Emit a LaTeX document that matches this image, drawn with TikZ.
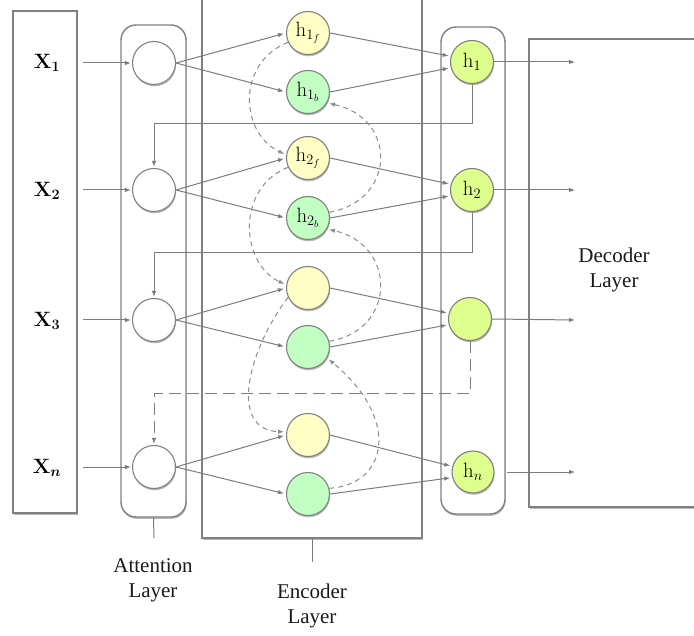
\documentclass[tikz,border=0pt]{standalone}
\usepackage[no-math]{fontspec}
\usepackage{bm}
\newfontfamily\tnr{Liberation Serif}
\usetikzlibrary{arrows.meta,shadows,calc}

\definecolor{edgegray}{HTML}{808080}
\definecolor{wiregray}{HTML}{7C7C7C}
\definecolor{dashgray}{HTML}{8C8C8C}
\definecolor{fwdfill}{HTML}{FFFFC6}
\definecolor{bwdfill}{HTML}{C2FFC2}
\definecolor{outfill}{HTML}{DEFF8E}

\begin{document}
\begin{tikzpicture}[x=1pt,y=-1pt,
  softshadow/.style={drop shadow={shadow xshift=0.6pt,shadow yshift=-1.8pt,fill=black,opacity=0.28}},
  layerbox/.style={draw=edgegray,line width=1.4pt,fill=white,inner sep=0pt,softshadow},
  cell/.style={circle,draw=edgegray,line width=1.1pt,minimum size=43pt,inner sep=0pt,
               softshadow,font=\fontsize{20}{24}\selectfont},
  conn/.style={draw=wiregray,line width=1pt,-{Latex[length=6pt,width=4.5pt]},shorten >=1pt},
  link/.style={draw=wiregray,line width=1pt},
  recur/.style={draw=dashgray,line width=1pt,dash pattern=on 5pt off 4pt,
                -{Latex[length=6pt,width=4.5pt]},shorten >=1pt},
  layername/.style={font=\tnr\fontsize{21}{25}\selectfont,align=center,text=black!90},
  xname/.style={font=\fontsize{20}{24}\selectfont}]

\useasboundingbox (0,0) rectangle (694,636);

% layer frames
\node[layerbox,minimum width=64pt,minimum height=502pt] (inbox) at (45,262) {};
\node[layerbox,rounded corners=15pt,minimum width=65pt,minimum height=492pt] (attbox) at (153.5,271) {};
\node[layerbox,minimum width=220pt,minimum height=548pt] (encbox) at (312,264) {};
\node[layerbox,rounded corners=15pt,minimum width=64pt,minimum height=487pt] (outbox) at (473,270.5) {};
\node[layerbox,minimum width=190pt,minimum height=468pt] (decbox) at (624,273) {};

% input tokens
\node[xname] (x1) at (47,63) {$\mathbf{X_1}$};
\node[xname] (x2) at (47,191) {$\mathbf{X_2}$};
\node[xname] (x3) at (47,321) {$\mathbf{X_3}$};
\node[xname] (xn) at (47,468) {$\mathbf{X}_{\bm{n}}$};

% attention cells
\node[cell,fill=white] (a1) at (154,63) {};
\node[cell,fill=white] (a2) at (154,190) {};
\node[cell,fill=white] (a3) at (154,320) {};
\node[cell,fill=white] (an) at (154,467) {};

% encoder cells (forward / backward)
\node[cell,fill=fwdfill] (f1) at (308,33) {$\mathrm{h}_{1_f}$};
\node[cell,fill=bwdfill] (b1) at (308,92) {$\mathrm{h}_{1_b}$};
\node[cell,fill=fwdfill] (f2) at (308,158) {$\mathrm{h}_{2_f}$};
\node[cell,fill=bwdfill] (b2) at (308,218) {$\mathrm{h}_{2_b}$};
\node[cell,fill=fwdfill] (f3) at (308,288) {};
\node[cell,fill=bwdfill] (b3) at (308,347) {};
\node[cell,fill=fwdfill] (fn) at (308,435) {};
\node[cell,fill=bwdfill] (bn) at (308,494) {};

% combined hidden states
\node[cell,fill=outfill] (h1) at (472,62) {$\mathrm{h}_1$};
\node[cell,fill=outfill] (h2) at (472,190) {$\mathrm{h}_2$};
\node[cell,fill=outfill] (h3) at (470,319) {};
\node[cell,fill=outfill,minimum size=42pt] (hn) at (473,472) {$\mathrm{h}_n$};

% layer names
\node[layername] (attname) at (153,580) {Attention\\Layer};
\node[layername] (encname) at (312,606) {Encoder\\Layer};
\node[layername] (decname) at (614,270) {Decoder\\Layer};

% free ends of the connectors
\coordinate (i1) at (83,63);
\coordinate (i2) at (83,190);
\coordinate (i3) at (83,320);
\coordinate (i4) at (83,467);
\coordinate (d1) at (576,62);
\coordinate (d2) at (576,190);
\coordinate (d3) at (576,320);
\coordinate (d4) at (576,472);
\coordinate (hnout) at (507,472);
\coordinate (atttick) at (154,538);
\coordinate (enctick) at (312,562);

% inputs into the attention cells
\foreach \s/\t in {i1/a1,i2/a2,i3/a3,i4/an}
  \draw[conn] (\s) -- (\t.west);

% attention cells into both encoder directions
\foreach \a/\f/\b in {a1/f1/b1,a2/f2/b2,a3/f3/b3,an/fn/bn}{
  \draw[conn,shorten >=2pt] (\a.east) -- (\f.west);
  \draw[conn,shorten >=2pt] (\a.east) -- (\b.west);
}

% encoder directions into the combined states
\foreach \f/\b/\h in {f1/b1/h1,f2/b2/h2,f3/b3/h3,fn/bn/hn}{
  \draw[conn,shorten >=2pt] (\f.east) -- (\h.165);
  \draw[conn,shorten >=2pt] (\b.east) -- (\h.195);
}

% combined states to the decoder
\draw[conn] (h1.east) -- (d1);
\draw[conn] (h2.east) -- (d2);
\draw[conn] (h3.east) -- (d3);
\draw[conn] (hnout) -- (d4);

% feedback of each state to the next attention cell
\draw[conn] (h1.south) -- (h1.south |- 0,124) -| (a2.north);
\draw[conn] (h2.south) -- (h2.south |- 0,253) -| (a3.north);
\draw[conn,dash pattern=on 12pt off 6pt] (h3.south) -- (h3.south |- 0,394) -| (an.north);

% forward recurrence
\draw[recur,shorten >=2pt] (f1.205) .. controls (236,63) and (240,133) .. (f2.172);
\draw[recur,shorten >=2pt] (f2.205) .. controls (236,188) and (240,263) .. (f3.172);
\draw[recur,shorten >=2pt] (f3.205) .. controls (248,350) and (228,430) .. (fn.172);

% backward recurrence
\draw[recur,shorten >=2pt] (b2.15) .. controls (397,200) and (397,118) .. (b1.-30);
\draw[recur,shorten >=2pt] (b3.15) .. controls (397,330) and (397,245) .. (b2.-30);
\draw[recur,shorten >=2pt] (bn.15) .. controls (387,485) and (402,420) .. (b3.-30);

% ticks below the layer frames
\draw[link] (attbox.south) -- (atttick);
\draw[link] (encbox.south) -- (enctick);
\end{tikzpicture}
\end{document}
